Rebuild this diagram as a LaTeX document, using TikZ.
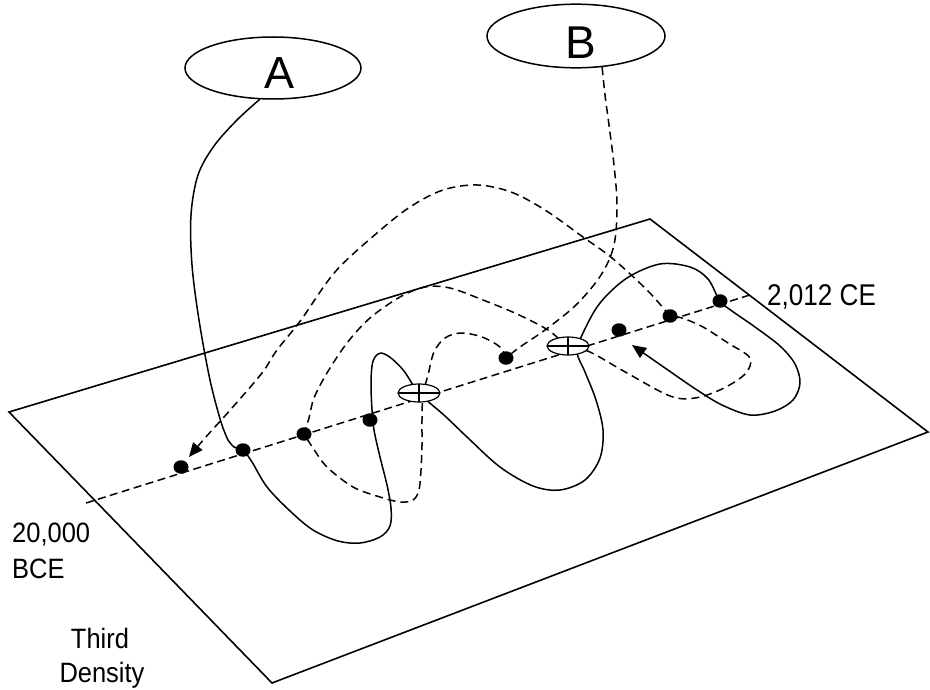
\documentclass[tikz,border=0pt]{standalone}
\usepackage{fontspec}
\setmainfont{Liberation Sans}
\usepackage{graphicx}
\usetikzlibrary{shapes.geometric,arrows.meta,backgrounds}
\tikzset{
  edge/.style={line width=1.5pt, line cap=round, line join=round},
  dashedge/.style={line width=1.5pt, line join=round, dash pattern=on 8pt off 5pt},
  planeedge/.style={line width=1.6pt, line join=miter},
  dot/.style={ellipse, fill=black, inner sep=0pt, minimum width=15pt, minimum height=13.5pt},
  crossmark/.style={ellipse, draw, fill=white, line width=1.2pt, inner sep=0pt,
    minimum width=42pt, minimum height=18pt,
    path picture={\draw[line width=1.2pt] (path picture bounding box.west) -- (path picture bounding box.east)
      (path picture bounding box.north) -- (path picture bounding box.south);}},
  bubble/.style={ellipse, draw, line width=1.5pt, inner sep=0pt},
  lbl/.style={inner sep=0pt},
  arrowend/.style={-{Triangle[length=14pt,width=12pt]}}
}
\begin{document}
\begin{tikzpicture}[x=1pt,y=-1pt]
\useasboundingbox (0,0) rectangle (930,690);

% bubbles
\node[bubble, minimum width=176pt, minimum height=62pt, font=\fontsize{45}{45}\selectfont, text height=42pt] (A) at (273,68) {\hspace*{14pt}A};
\node[bubble, minimum width=178pt, minimum height=63pt, font=\fontsize{46}{46}\selectfont, text height=45pt] (B) at (576,36) {\hspace*{10pt}B};

% crossing marks
\node[crossmark] (E1) at (419,393) {};
\node[crossmark] (E2) at (568,346) {};

% dots
\node[dot] (d1) at (181,467) {};
\node[dot] (d2) at (243,450) {};
\node[dot] (d3) at (304,434) {};
\node[dot] (d4) at (370,420) {};
\node[dot] (d5) at (506,358) {};
\node[dot] (d6) at (619,330) {};
\node[dot] (d7) at (670,316) {};
\node[dot] (d8) at (720,301) {};

% timeline ends
\coordinate (t0) at (86,503);
\coordinate (t1) at (753,294);

% labels
\node[lbl, anchor=base west, font=\fontsize{30}{36}\selectfont] (ce) at (767,305) {\scalebox{0.87}[1]{2,012 CE}};
\node[lbl, anchor=base west, font=\fontsize{28}{35}\selectfont] (bce1) at (12,542) {\scalebox{0.91}[1]{20,000}};
\node[lbl, anchor=base west, font=\fontsize{28}{35}\selectfont] (bce2) at (12,578) {\scalebox{0.91}[1]{BCE}};
\node[lbl, anchor=base, font=\fontsize{28}{35}\selectfont] (td1) at (100,648) {\scalebox{0.91}[1]{Third}};
\node[lbl, anchor=base, font=\fontsize{28}{35}\selectfont] (td2) at (102,682) {\scalebox{0.91}[1]{Density}};

\begin{scope}[on background layer]
% plane
\coordinate (p1) at (9,412);
\coordinate (p2) at (650,219);
\coordinate (p3) at (928,432);
\coordinate (p4) at (272,683);
\draw[planeedge] (p1) -- (p2) -- (p3) -- (p4) -- cycle;

% timeline
\draw[dashedge, dash pattern=on 8pt off 4.5pt] (t0) -- (t1);

% solid path from A
\draw[edge, arrowend] plot[smooth,tension=0.55] coordinates {(A.247) (237,120) (214,146) (198,175) (191,215) (192,265) (199,320) (210,380) (221,422) (228,440)}
 -- plot[smooth,tension=0.55] coordinates {(228,440) (234,447) (d2.center) (252,462) (267,487) (290,511) (313,530) (338,541) (360,543) (380,537) (390,526) (391,508) (387,485) (380,457) (374,430) (372,410) (371,385) (372,366) (375,357) (381,353) (391,358) (404,371) (E1.center) (445,416) (467,437) (500,467) (533,486) (560,490) (585,480) (600,458) (603,430) (596,400) (585,372) (577,352) (583,333) (600,303) (627,278) (660,264) (690,267) (708,279) (d8.center) (732,311) (755,327) (780,346) (795,364) (800,383) (793,400) (775,411) (750,415) (722,405) (697,390) (665,368) (632,345)};

% dashed path from B
\draw[dashedge, arrowend] plot[smooth,tension=0.55] coordinates {(B.310) (605,95) (609,125) (614,165) (617,205) (614,245) (601,275) (576,305) (545,330) (520,347) (d5.center)}
 -- plot[smooth,tension=0.55] coordinates {(d5.center) (500,347) (482,337) (461,333) (445,338) (434,352) (428,375) (423,395) (422,420) (422,445) (421,470) (419,490) (413,500) (400,502) (380,497) (353,487) (327,467) (313,448) (d3.center)}
 -- plot[smooth,tension=0.55] coordinates {(d3.center) (309,418) (314,398) (327,373) (347,343) (370,318) (400,297) (425,287) (450,288) (483,300) (517,314) (548,330) (E2.center) (590,352) (627,373) (670,396) (695,398) (722,389) (745,374) (750,358) (728,343) (703,327) (682,318) (d7.center)}
 -- plot[smooth,tension=0.55] coordinates {(d7.center) (647,290) (612,258) (583,237) (545,210) (511,192) (477,185) (443,190) (410,207) (377,233) (335,272) (301,320) (277,350) (262,373) (232,408) (205,438) (189,457)};
\end{scope}
\end{tikzpicture}
\end{document}
